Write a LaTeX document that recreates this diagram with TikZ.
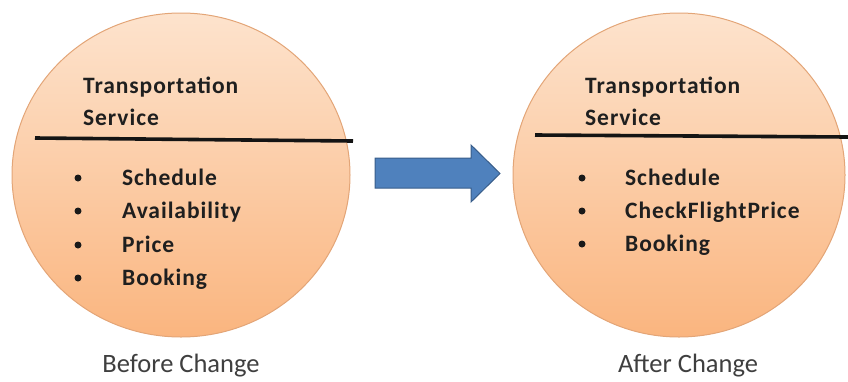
\documentclass[tikz,border=0pt]{standalone}
\usepackage{fontspec}
\setmainfont{Carlito}
\newfontfamily\itemfont[LetterSpace=4]{Carlito}
\usetikzlibrary{shapes.geometric}

\definecolor{peachtop}{HTML}{FDE3CD}
\definecolor{peachbot}{HTML}{FAB57F}
\definecolor{peachrim}{HTML}{E3A577}
\definecolor{arrowblue}{HTML}{4F81BD}
\definecolor{arrowrim}{HTML}{385D8A}
\definecolor{captiongray}{HTML}{3F3F3F}

\tikzset{
  service/.style={ellipse, draw=peachrim, line width=1pt,
    top color=peachtop, bottom color=peachbot, inner sep=0pt},
  divider/.style={line width=3.6pt, draw=black!92},
  heading/.style={anchor=base west, inner sep=0pt, font=\itemfont\bfseries\fontsize{23.5}{28}\selectfont, text=black!88},
  entry/.style={anchor=base west, inner sep=0pt, font=\itemfont\bfseries\fontsize{23.5}{28}\selectfont, text=black!88},
  bulletdot/.style={circle, fill=black!90, inner sep=0pt, minimum size=7pt},
  caption/.style={anchor=base, inner sep=0pt, font=\fontsize{26.5}{30}\selectfont, text=captiongray},
  bigarrow/.style={fill=arrowblue, draw=arrowrim, line width=1pt, line join=miter}
}

\begin{document}
\begin{tikzpicture}[x=1pt, y=-1pt]
\useasboundingbox (0,0) rectangle (848,381);

% service before the change
\node[service, minimum width=338pt, minimum height=324pt] (before) at (181,175) {};
\coordinate (bl) at (35,138);
\coordinate (br) at (353,141);
\draw[divider] (bl) -- (br);
\node[heading] (bt1) at (83,93) {Transportation};
\node[heading] (bt2) at (83,125) {Service};
\node[bulletdot] (bb1) at (78,178) {};
\node[bulletdot] (bb2) at (78,211) {};
\node[bulletdot] (bb3) at (78,245) {};
\node[bulletdot] (bb4) at (78,278) {};
\node[entry] (be1) at (122,185) {Schedule};
\node[entry] (be2) at (122,218) {Availability};
\node[entry] (be3) at (122,252) {Price};
\node[entry] (be4) at (122,285) {Booking};
\node[caption] (bcap) at (181,372) {Before Change};

% transition arrow
\draw[bigarrow] (375,158) -- (471,158) -- (471,145) -- (500,173.5)
  -- (471,202) -- (471,188) -- (375,188) -- cycle;

% service after the change
\node[service, minimum width=332pt, minimum height=324pt] (after) at (679,175) {};
\coordinate (al) at (535,135);
\coordinate (ar) at (848,137);
\draw[divider] (al) -- (ar);
\node[heading] (at1) at (585,93) {Transportation};
\node[heading] (at2) at (585,125) {Service};
\node[bulletdot] (ab1) at (582,178) {};
\node[bulletdot] (ab2) at (582,211) {};
\node[bulletdot] (ab3) at (582,244) {};
\node[entry] (ae1) at (625,185) {Schedule};
\node[entry] (ae2) at (625,218) {CheckFlightPrice};
\node[entry] (ae3) at (625,251) {Booking};
\node[caption] (acap) at (688,372) {After Change};
\end{tikzpicture}
\end{document}
